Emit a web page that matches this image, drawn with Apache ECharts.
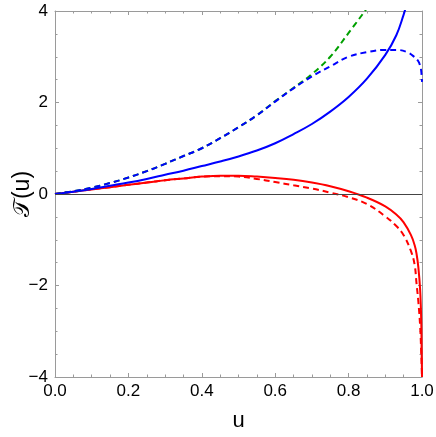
<!DOCTYPE html>
<html>
<head>
<meta charset="utf-8">
<script src="https://cdn.jsdelivr.net/npm/echarts@6/dist/echarts.min.js"></script>
<style>
html,body{margin:0;padding:0;background:#fff;}
#chart{width:436px;height:437px;}
</style>
</head>
<body>
<div id="chart"></div>
<script>
// u values and curve values
const greenU = [0,0.05,0.1,0.15,0.2,0.25,0.3,0.35,0.4,0.45,0.5,0.55,0.6,0.65,0.7,0.75,0.8,0.85];
const greenY = [0,0.06,0.14,0.24,0.36,0.50,0.66,0.83,1.00,1.22,1.46,1.72,2.03,2.32,2.62,3.00,3.52,4.06];

const blueDashU = [0,0.05,0.1,0.15,0.2,0.25,0.3,0.35,0.4,0.45,0.5,0.55,0.6,0.65,0.7,0.75,0.8,0.85,0.9,0.93,0.96,0.98,0.99,0.995,0.998,1.0];
const blueDashY = [0,0.06,0.14,0.24,0.36,0.50,0.66,0.83,1.00,1.22,1.46,1.72,2.02,2.31,2.57,2.79,3.00,3.10,3.15,3.15,3.10,2.99,2.90,2.80,2.68,2.45];

const blueU = [0,0.05,0.1,0.15,0.2,0.25,0.3,0.35,0.4,0.45,0.5,0.55,0.6,0.65,0.7,0.75,0.8,0.85,0.9,0.93,0.95,0.955];
const blueY = [0,0.05,0.11,0.18,0.25,0.33,0.42,0.51,0.61,0.71,0.82,0.95,1.11,1.31,1.53,1.80,2.12,2.52,3.04,3.47,3.92,4.06];

const redU = [0,0.05,0.1,0.15,0.2,0.25,0.3,0.35,0.4,0.45,0.5,0.55,0.6,0.65,0.7,0.75,0.8,0.85,0.9,0.93,0.95,0.97,0.98,0.985,0.99,0.995,0.998,0.999,1.0];
const redY = [0,0.05,0.10,0.15,0.20,0.25,0.30,0.34,0.38,0.40,0.40,0.38,0.35,0.31,0.25,0.17,0.06,-0.08,-0.27,-0.45,-0.62,-0.90,-1.12,-1.30,-1.60,-2.10,-2.80,-3.40,-4.0];

const redDashU = [0,0.05,0.1,0.15,0.2,0.25,0.3,0.35,0.4,0.45,0.5,0.55,0.6,0.65,0.7,0.75,0.8,0.85,0.9,0.93,0.95,0.97,0.98,0.985,0.99,0.995,0.998,1.0];
const redDashY = [0,0.05,0.10,0.15,0.20,0.25,0.30,0.34,0.38,0.39,0.38,0.33,0.26,0.19,0.12,0.03,-0.07,-0.22,-0.49,-0.70,-0.90,-1.25,-1.55,-1.95,-2.35,-2.90,-3.50,-4.0];

const xTicks = [0,0.2,0.4,0.6,0.8,1.0];
const yTicks = [-4,-2,0,2,4];

function pairs(us, ys){ return us.map((u,i)=>[u, ys[i]]); }

const chart = echarts.init(document.getElementById('chart'), null, {renderer:'canvas'});
const frameColor = '#9a9a9a';
const fontFam = '"Liberation Sans", Arial, sans-serif';

function axisCommon(){
  return {
    axisLine:{show:true, onZero:false, lineStyle:{color:frameColor, width:1}},
    axisTick:{show:true, inside:true, length:4, lineStyle:{color:frameColor}},
    minorTick:{show:true, splitNumber:4, length:2.5, lineStyle:{color:frameColor}},
    splitLine:{show:false}
  };
}

function lineSeries(data, color, dashed, z){
  return {
    type:'line', data:data, showSymbol:false, symbol:'none',
    smooth:0.4, clip:true, z:z,
    lineStyle:{color:color, width:2, type: dashed ? [6,4] : 'solid'}
  };
}

const option = {
  animation:false,
  backgroundColor:'#ffffff',
  grid:{left:55, right:14, top:11, bottom:60, containLabel:false, outerBoundsMode:'none'},
  xAxis:[
    Object.assign(axisCommon(), {
      type:'value', min:0, max:1, interval:0.2, position:'bottom',
      name:'u', nameLocation:'middle', nameGap:33,
      nameTextStyle:{fontSize:22, color:'#000', fontFamily:fontFam},
      axisLabel:{show:true, fontSize:17, color:'#000', fontFamily:fontFam, margin:6,
        formatter:(v)=>v.toFixed(1)}
    }),
    Object.assign(axisCommon(), {
      type:'value', min:0, max:1, interval:0.2, position:'top',
      axisLabel:{show:false}
    })
  ],
  yAxis:[
    Object.assign(axisCommon(), {
      type:'value', min:-4, max:4, interval:2, position:'left',
      name:'𝒯(u)', nameLocation:'middle', nameGap:21, nameRotate:90, nameMoveOverlap:false,
      nameTextStyle:{fontSize:23, color:'#000', fontFamily:fontFam},
      axisLabel:{show:true, fontSize:17, color:'#000', fontFamily:fontFam, margin:7,
        formatter:(v)=> (v<0 ? '\u2212'+Math.abs(v) : String(v))}
    }),
    Object.assign(axisCommon(), {
      type:'value', min:-4, max:4, interval:2, position:'right',
      axisLabel:{show:false}
    })
  ],
  series:[
    Object.assign(lineSeries(pairs(redU, redY), '#ff0000', false, 3), {
      markLine:{silent:true, symbol:'none', label:{show:false},
        lineStyle:{color:'#444', width:1, type:'solid'},
        data:[{yAxis:0}]}
    }),
    lineSeries(pairs(redDashU, redDashY), '#ff0000', true, 3),
    lineSeries(pairs(blueU, blueY), '#0000ff', false, 3),
    lineSeries(pairs(greenU, greenY), '#00a000', true, 3),
    lineSeries(pairs(blueDashU, blueDashY), '#0000ff', true, 4)
  ]
};
chart.setOption(option);
</script>
</body>
</html>
